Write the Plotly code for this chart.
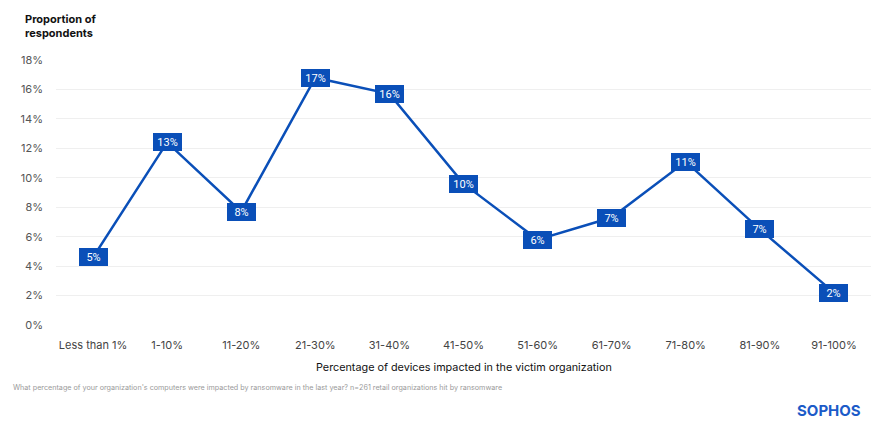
import plotly.graph_objects as go

categories = ["Less than 1%", "1-10%", "11-20%", "21-30%", "31-40%", "41-50%",
              "51-60%", "61-70%", "71-80%", "81-90%", "91-100%"]
values = [4.6, 12.4, 7.7, 16.8, 15.7, 9.6, 5.8, 7.3, 11.1, 6.5, 2.2]
labels = ["5%", "13%", "8%", "17%", "16%", "10%", "6%", "7%", "11%", "7%", "2%"]
y_ticks = [0, 2, 4, 6, 8, 10, 12, 14, 16, 18]
y_tick_text = [f"{v}%" for v in y_ticks]

BLUE = "#0a4fb8"
FONT = "Inter, Roboto, sans-serif"

fig = go.Figure()
fig.add_trace(go.Scatter(
    x=categories, y=values, mode="lines",
    line=dict(color=BLUE, width=2.5), hoverinfo="skip", showlegend=False,
))

for c, v, t in zip(categories, values, labels):
    fig.add_annotation(
        x=c, y=v, xref="x", yref="y", text=t, showarrow=False,
        font=dict(family="Roboto, sans-serif", size=11, color="white"),
        bgcolor=BLUE, bordercolor=BLUE, borderwidth=1, borderpad=2,
        width=23, height=12,
    )

fig.add_annotation(xref="paper", yref="paper", x=-0.041, y=1.19, xanchor="left", yanchor="top",
                   text="<b>Proportion of<br>respondents</b>", showarrow=False, align="left",
                   font=dict(family=FONT, size=11, color="#111111"))
fig.add_annotation(xref="paper", yref="paper", x=0.5, y=-0.13, xanchor="center", yanchor="top",
                   text="Percentage of devices impacted in the victim organization", showarrow=False,
                   font=dict(family=FONT, size=10.8, color="#111111"))
fig.add_annotation(xref="paper", yref="paper", x=-0.055, y=-0.21, xanchor="left", yanchor="top",
                   text="What percentage of your organization's computers were impacted by ransomware in the last year? n=261 retail organizations hit by ransomware",
                   showarrow=False, font=dict(family=FONT, size=7.2, color="#9a9a9a"))
fig.add_annotation(xref="paper", yref="paper", x=0.99, y=-0.28, xanchor="right", yanchor="top",
                   text="<b>SOPHOS</b>", showarrow=False,
                   font=dict(family="Inter, sans-serif", size=15, color="#1c5bc8"))

fig.update_layout(
    width=880, height=432,
    margin=dict(l=56, r=9, t=60, b=107),
    paper_bgcolor="white", plot_bgcolor="white",
    font=dict(family=FONT, size=11, color="#555555"),
    xaxis=dict(type="category", showgrid=False, showline=False, zeroline=False,
               ticks="", ticklabelstandoff=12, tickfont=dict(size=11, color="#444444"),
               range=[-0.5, len(categories) - 0.5]),
    yaxis=dict(range=[0, 18], tickvals=y_ticks, ticktext=y_tick_text,
               showgrid=True, gridcolor="#efefef", gridwidth=1, zeroline=False,
               showline=False, ticks="", ticklabelstandoff=12,
               tickfont=dict(size=11, color="#555555")),
)

fig.write_html("out.html", config={"displayModeBar": False},
               post_script="document.body.style.margin='0';document.body.style.overflow='hidden';")
